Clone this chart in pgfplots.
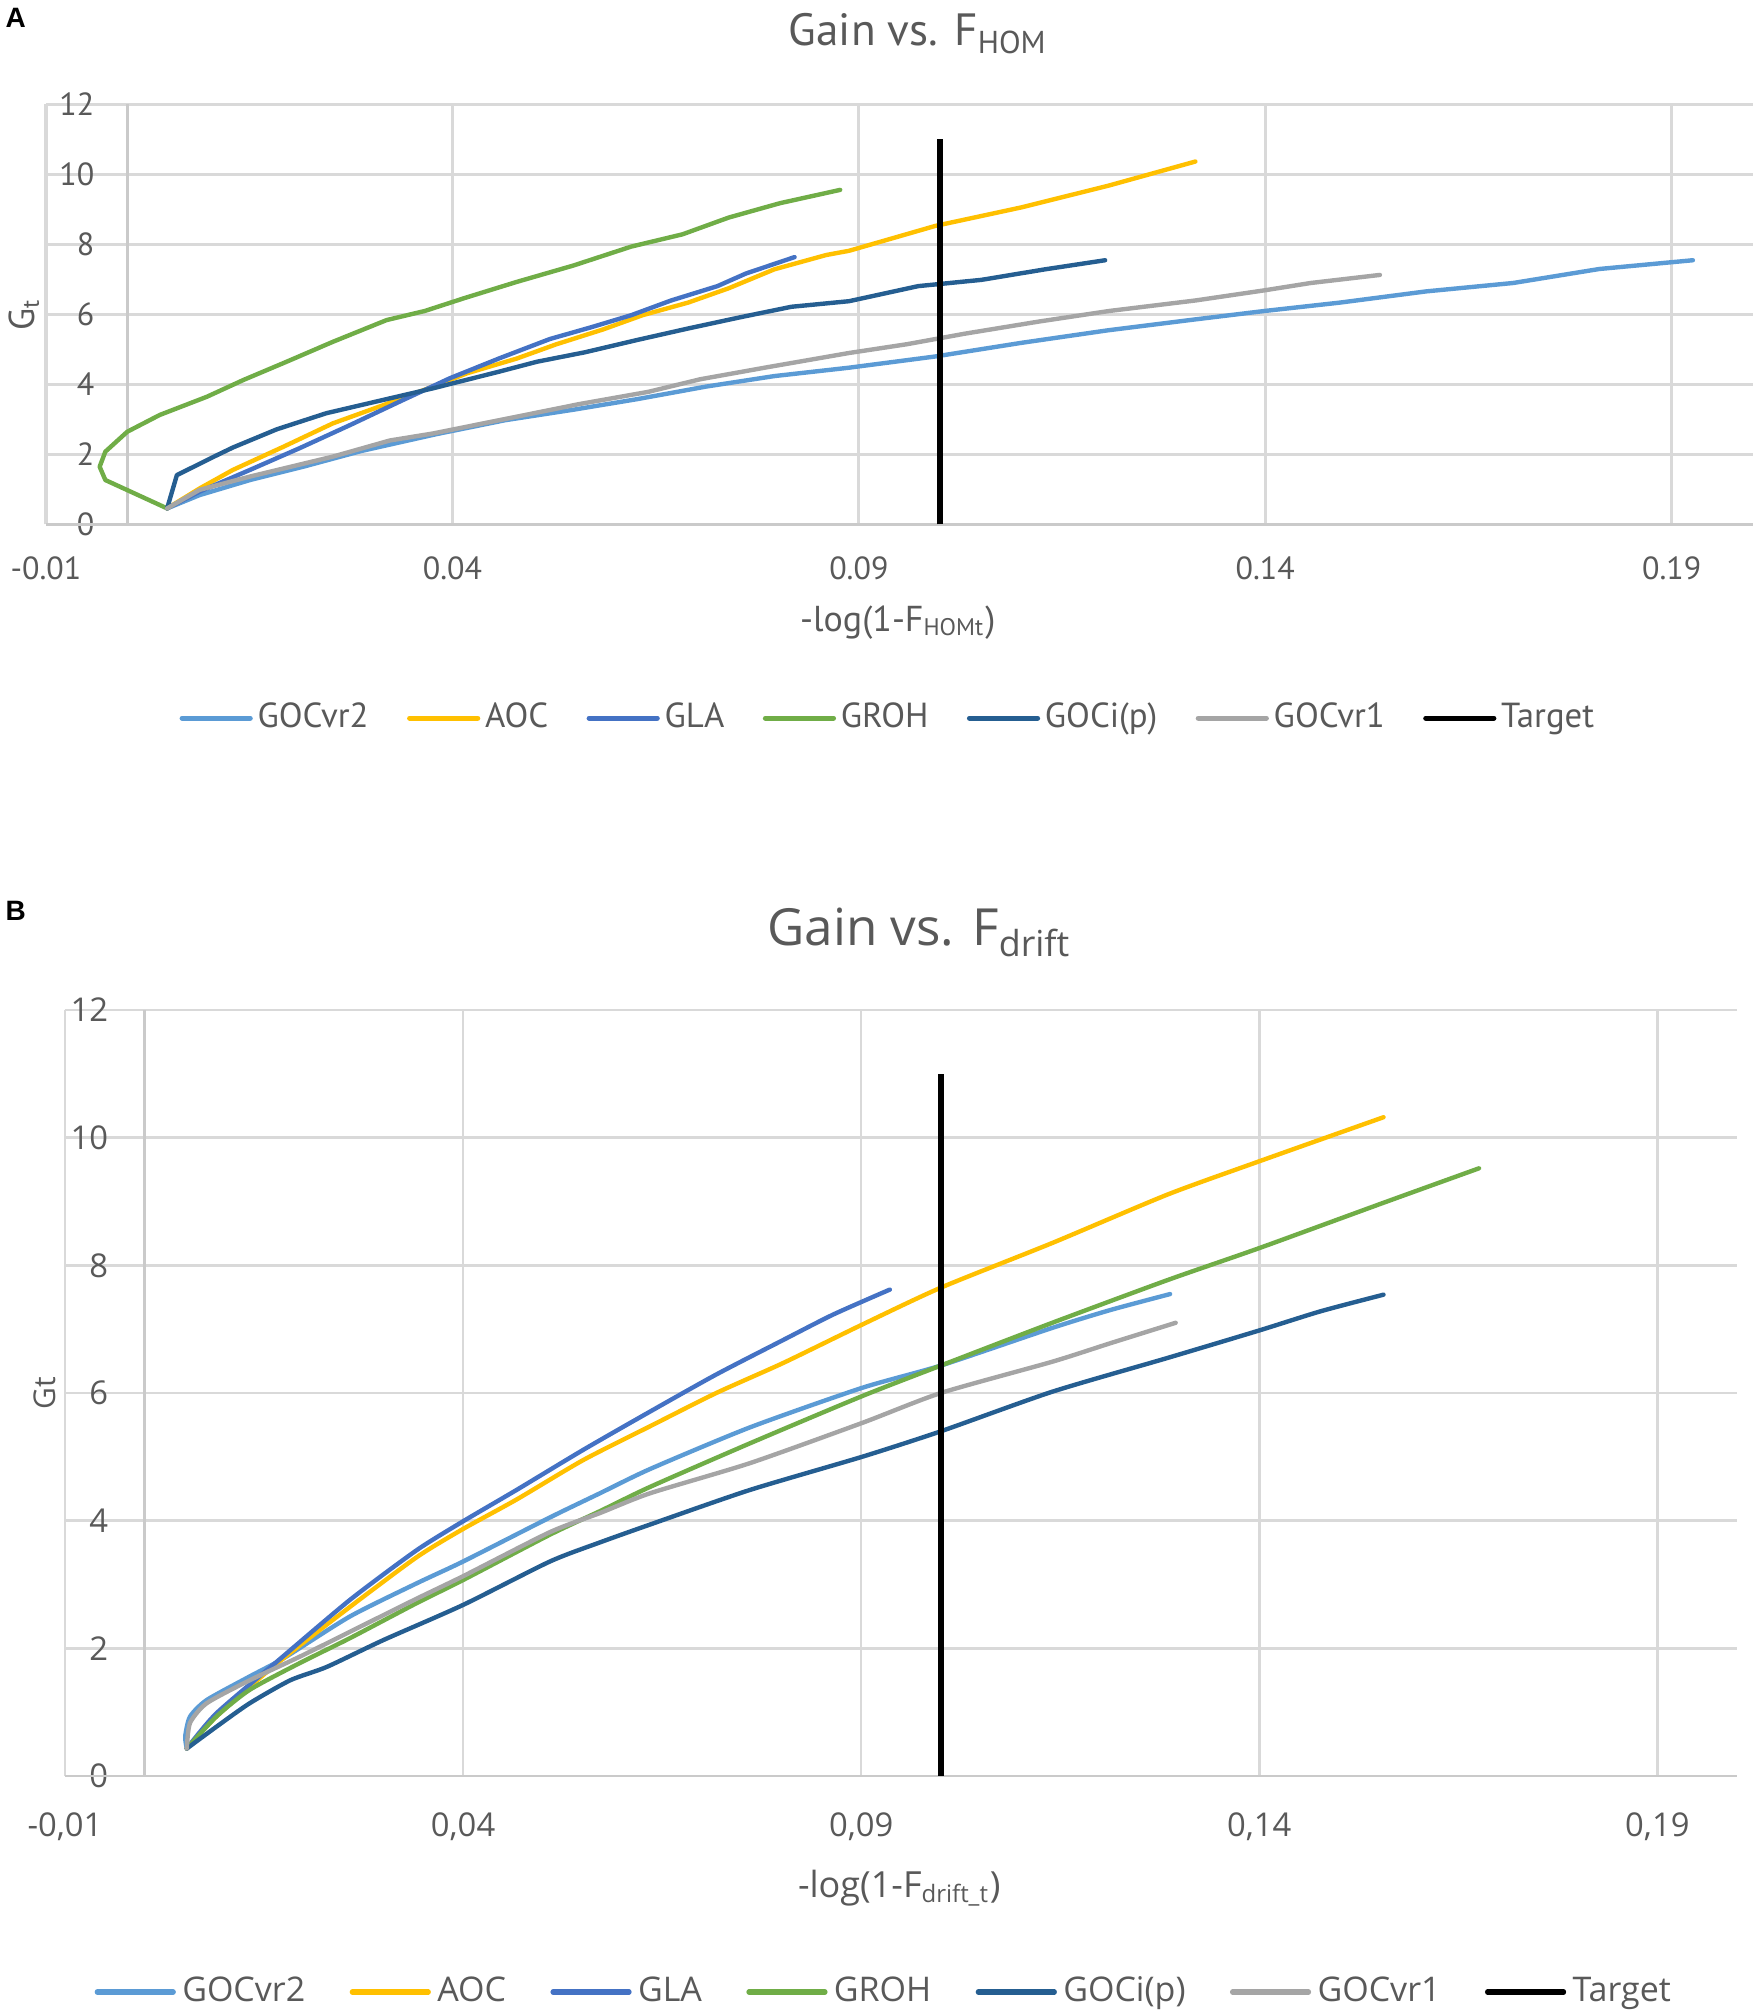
\documentclass[border=0pt]{standalone}
\usepackage{fontspec}
\usepackage{pgfplots}
\pgfplotsset{compat=1.18}
\newfontfamily\fa{PT Sans}
\newfontfamily\fb{Open Sans}
\newfontfamily\fbold{Liberation Sans}
\definecolor{txt}{HTML}{595959}
\definecolor{grd}{HTML}{D9D9D9}
\definecolor{axl}{HTML}{CACACA}
\definecolor{cvrtwo}{HTML}{5B9BD5}
\definecolor{aoc}{HTML}{FFC000}
\definecolor{gla}{HTML}{4472C4}
\definecolor{groh}{HTML}{70AD47}
\definecolor{goci}{HTML}{255E91}
\definecolor{cvrone}{HTML}{A5A5A5}
\pgfplotsset{
  common/.style={
    scale only axis,
    xmin=-0.01, xmax=0.2, ymin=0, ymax=12,
    xtick={-0.01,0.04,0.09,0.14,0.19},
    ytick={0,2,4,6,8,10,12},
    yticklabels={0,2,4,6,8,10,12},
    grid=major,
    axis line style={draw=none},
    major tick length=0pt,
    extra x ticks={0}, extra x tick labels={},
    extra y ticks={0}, extra y tick labels={},
    every axis plot/.append style={line width=1.1pt, line cap=round, line join=round},
    legend cell align=left,
    legend image code/.code={\draw[##1, line width=1.3pt, line cap=round] (0pt,0pt) -- (17pt,0pt);},
  }
}
\begin{document}
\begin{tikzpicture}
\path[use as bounding box] (0,0) rectangle (438.75pt,503.5pt);
\node[anchor=base west, inner sep=0pt, font=\fbold\bfseries\fontsize{7}{8}\selectfont] at (1.2pt,496.6pt) {A};
\node[anchor=base west, inner sep=0pt, font=\fbold\bfseries\fontsize{7}{8}\selectfont] at (1.2pt,273.4pt) {B};

% ---------------- Panel A ----------------
\begin{axis}[common,
  at={(11.5pt,372.375pt)}, anchor=south west,
  width=426.75pt, height=105pt,
  xticklabels={-0.01,0.04,0.09,0.14,0.19},
  major grid style={draw=grd, line width=0.8pt},
  extra x tick style={grid=major, major grid style={draw=axl, line width=0.8pt}},
  extra y tick style={grid=major, major grid style={draw=axl, line width=0.8pt}},
  tick label style={font=\fa\fontsize{8}{9}\selectfont, text=txt},
  xticklabel style={anchor=north, inner sep=0pt, yshift=-7.75pt},
  yticklabel style={anchor=east, inner sep=0pt, xshift=12.25pt},
  title={Gain vs. F\textsubscript{HOM}},
  every axis title/.style={at={(0.511,1.140)}, anchor=base, inner sep=0pt, font=\fa\fontsize{11.3}{13}\selectfont, text=txt},
  xlabel={-log(1-F\textsubscript{HOMt})},
  xlabel style={at={(axis description cs:0.499,-0.2536)}, anchor=base, inner sep=0pt, font=\fa\fontsize{9}{11}\selectfont, text=txt},
  ylabel={G\textsubscript{t}},
  ylabel style={at={(axis description cs:-0.0035,0.5)}, anchor=south, inner sep=0pt, font=\fa\fontsize{9}{11}\selectfont, text=txt},
  legend columns=-1,
  legend style={draw=none, fill=none, at={(0.494,-0.461)}, anchor=center,
    font=\fa\fontsize{8.7}{10}\selectfont, text=txt,
    nodes={inner xsep=1.2pt, inner ysep=0.5pt},
    /tikz/every even column/.append style={column sep=8.4pt}},
]
\addplot[cvrtwo] coordinates {(0.0049,0.46) (0.0089,0.84) (0.0151,1.27) (0.0218,1.66) (0.0288,2.10) (0.038,2.58) (0.0465,2.98) (0.0549,3.28) (0.0627,3.58) (0.0712,3.94) (0.0796,4.24) (0.0888,4.48) (0.0994,4.80) (0.110,5.19) (0.1207,5.55) (0.1314,5.86) (0.1399,6.10) (0.1492,6.34) (0.1598,6.66) (0.1705,6.90) (0.1811,7.30) (0.1926,7.55)};
\addplot[aoc] coordinates {(0.0049,0.46) (0.0089,1.03) (0.0130,1.56) (0.0192,2.22) (0.0253,2.89) (0.0315,3.41) (0.0376,3.94) (0.0418,4.32) (0.0479,4.74) (0.0528,5.15) (0.0585,5.57) (0.0634,5.98) (0.069,6.34) (0.074,6.75) (0.0796,7.29) (0.086,7.70) (0.0888,7.82) (0.0994,8.53) (0.110,9.06) (0.1207,9.68) (0.1314,10.37)};
\addplot[gla] coordinates {(0.0049,0.46) (0.0089,0.94) (0.0151,1.56) (0.0212,2.18) (0.0274,2.84) (0.0335,3.51) (0.0397,4.18) (0.0458,4.75) (0.052,5.30) (0.057,5.63) (0.062,5.98) (0.0669,6.40) (0.0726,6.81) (0.0761,7.17) (0.0821,7.64)};
\addplot[groh] coordinates {(0.0049,0.46) (-0.0027,1.27) (-0.0034,1.65) (-0.0027,2.08) (0.0,2.65) (0.004,3.13) (0.0098,3.65) (0.0143,4.13) (0.0196,4.65) (0.0253,5.22) (0.0319,5.84) (0.0366,6.10) (0.0415,6.47) (0.0479,6.93) (0.0549,7.40) (0.062,7.94) (0.0683,8.29) (0.074,8.77) (0.0803,9.18) (0.0877,9.56)};
\addplot[goci] coordinates {(0.0049,0.46) (0.0061,1.41) (0.0105,1.92) (0.0130,2.20) (0.0184,2.72) (0.0245,3.18) (0.0315,3.56) (0.0376,3.89) (0.0458,4.37) (0.0504,4.65) (0.0563,4.92) (0.0627,5.27) (0.069,5.60) (0.0754,5.92) (0.0817,6.22) (0.0888,6.38) (0.0973,6.81) (0.1051,6.99) (0.1129,7.29) (0.1203,7.55)};
\addplot[cvrone] coordinates {(0.0049,0.46) (0.0089,0.99) (0.0151,1.37) (0.0253,1.94) (0.0323,2.40) (0.0376,2.60) (0.0479,3.08) (0.0556,3.44) (0.0641,3.79) (0.0705,4.15) (0.0789,4.50) (0.0888,4.90) (0.0959,5.15) (0.103,5.45) (0.1122,5.80) (0.1208,6.10) (0.1314,6.40) (0.1399,6.69) (0.1456,6.90) (0.1541,7.13)};
\addplot[black, line width=1.35pt, line cap=butt] coordinates {(0.1,0) (0.1,11)};
\legend{GOCvr2,AOC,GLA,GROH,GOCi(p),GOCvr1,Target}
\end{axis}

% ---------------- Panel B ----------------
\begin{axis}[common,
  at={(16.25pt,59.5pt)}, anchor=south west,
  width=418pt, height=191.5pt,
  xticklabels={-0{,}01,0{,}04,0{,}09,0{,}14,0{,}19},
  major grid style={draw=grd, line width=0.65pt},
  extra x tick style={grid=major, major grid style={draw=axl, line width=0.65pt}},
  extra y tick style={grid=major, major grid style={draw=axl, line width=0.65pt}},
  tick label style={font=\fb\fontsize{8.2}{9.5}\selectfont, text=txt},
  xticklabel style={anchor=north, inner sep=0pt, yshift=-8.9pt},
  yticklabel style={anchor=east, inner sep=0pt, xshift=11pt},
  title={Gain vs. F\textsubscript{drift}},
  every axis title/.style={at={(0.511,1.0836)}, anchor=base, inner sep=0pt, font=\fb\fontsize{12.8}{15}\selectfont, text=txt},
  xlabel={-log(1-F\textsubscript{drift\_t})},
  xlabel style={at={(axis description cs:0.499,-0.158)}, anchor=base, inner sep=0pt, font=\fb\fontsize{9}{11}\selectfont, text=txt},
  ylabel={Gt},
  ylabel style={at={(axis description cs:-0.0048,0.5)}, anchor=south, inner sep=0pt, font=\fb\fontsize{7.5}{9}\selectfont, text=txt},
  legend columns=-1,
  legend image code/.code={\draw[#1, line width=1.3pt, line cap=round] (0pt,0pt) -- (19pt,0pt);},
  legend style={draw=none, fill=none, at={(0.491,-0.282)}, anchor=center,
    font=\fb\fontsize{8.5}{10}\selectfont, text=txt,
    nodes={inner xsep=1.6pt, inner ysep=0.5pt},
    /tikz/every even column/.append style={column sep=9.5pt}},
]
\addplot[cvrtwo, smooth, tension=0.4] coordinates {(0.0053,0.43) (0.0051,0.62) (0.0057,0.93) (0.0078,1.19) (0.0132,1.56) (0.0174,1.84) (0.0258,2.50) (0.0342,3.02) (0.040,3.36) (0.0509,4.05) (0.0572,4.43) (0.0635,4.81) (0.076,5.46) (0.0901,6.08) (0.100,6.43) (0.114,7.02) (0.1213,7.30) (0.1288,7.55)};
\addplot[aoc, smooth, tension=0.4] coordinates {(0.0053,0.43) (0.009,0.93) (0.0166,1.76) (0.0258,2.65) (0.0342,3.43) (0.040,3.87) (0.0467,4.33) (0.0551,4.95) (0.0635,5.48) (0.0718,6.00) (0.0802,6.47) (0.0901,7.07) (0.100,7.65) (0.114,8.35) (0.1285,9.11) (0.140,9.63) (0.1556,10.32)};
\addplot[gla, smooth, tension=0.4] coordinates {(0.0053,0.43) (0.009,0.98) (0.0166,1.79) (0.0258,2.76) (0.0342,3.54) (0.040,3.99) (0.0467,4.48) (0.0551,5.11) (0.0635,5.71) (0.0718,6.29) (0.0802,6.83) (0.0865,7.23) (0.0936,7.62)};
\addplot[groh, smooth, tension=0.4] coordinates {(0.0053,0.43) (0.009,0.93) (0.0132,1.35) (0.0195,1.77) (0.0258,2.16) (0.0342,2.71) (0.040,3.07) (0.0509,3.78) (0.0572,4.15) (0.0635,4.53) (0.076,5.21) (0.0901,5.95) (0.100,6.43) (0.114,7.10) (0.1285,7.77) (0.140,8.27) (0.1556,8.98) (0.1676,9.52)};
\addplot[goci, smooth, tension=0.4] coordinates {(0.0053,0.43) (0.009,0.77) (0.0132,1.14) (0.0183,1.50) (0.0229,1.71) (0.030,2.13) (0.040,2.68) (0.0509,3.36) (0.0572,3.66) (0.0635,3.94) (0.076,4.48) (0.0901,5.00) (0.100,5.40) (0.114,6.02) (0.1285,6.55) (0.140,6.98) (0.1477,7.28) (0.1556,7.54)};
\addplot[cvrone, smooth, tension=0.4] coordinates {(0.0053,0.43) (0.0057,0.83) (0.0078,1.14) (0.0132,1.50) (0.0195,1.87) (0.0258,2.26) (0.0342,2.78) (0.040,3.13) (0.0509,3.82) (0.0572,4.12) (0.0635,4.43) (0.076,4.90) (0.0901,5.53) (0.100,6.00) (0.114,6.49) (0.1213,6.78) (0.1295,7.10)};
\addplot[black, line width=1.35pt, line cap=butt] coordinates {(0.1,0) (0.1,11)};
\legend{GOCvr2,AOC,GLA,GROH,GOCi(p),GOCvr1,Target}
\end{axis}
\end{tikzpicture}
\end{document}
